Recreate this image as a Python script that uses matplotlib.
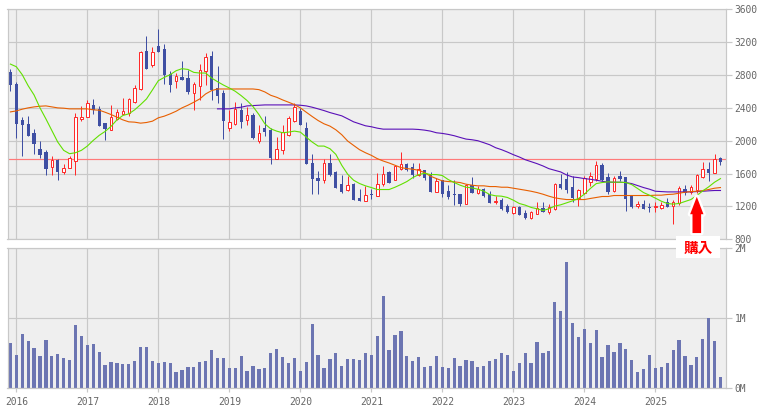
import numpy as np
import matplotlib
matplotlib.use("Agg")
import matplotlib.pyplot as plt
import matplotlib.patheffects as pe
from matplotlib.patches import Rectangle

# monthly bars, index 0 is Dec 2015
year_labels = ["2016", "2017", "2018", "2019", "2020", "2021", "2022", "2023", "2024", "2025"]
year_months = [1, 13, 25, 37, 49, 61, 73, 85, 97, 109]

price_ticks = [800, 1200, 1600, 2000, 2400, 2800, 3200, 3600]
volume_ticks = [0, 1, 2]
volume_labels = ["0M", "1M", "2M"]
ref_price = 1781

opens = [2840, 2695, 2258, 2198, 2089, 1895, 1858, 1681, 1762, 1620,
         1669, 1753, 2270, 2287, 2440, 2392, 2210, 2129, 2266, 2331,
         2343, 2477, 2634, 3095, 2925, 3155, 3119, 2816, 2723, 2780,
         2767, 2586, 2670, 2852, 3034, 2646, 2586, 2161, 2198, 2380,
         2258, 2319, 1996, 2149, 2125, 1782, 1891, 2069, 2246, 2367,
         2149, 1725, 1543, 1523, 1725, 1616, 1471, 1398, 1471, 1301,
         1269, 1350, 1329, 1471, 1616, 1523, 1652, 1713, 1677, 1580,
         1640, 1592, 1378, 1519, 1386, 1350, 1350, 1232, 1459, 1362,
         1410, 1350, 1253, 1276, 1204, 1119, 1192, 1119, 1058, 1111,
         1179, 1131, 1163, 1470, 1531, 1434, 1297, 1361, 1503, 1531,
         1701, 1555, 1385, 1567, 1555, 1325, 1204, 1228, 1192, 1196,
         1179, 1252, 1204, 1236, 1410, 1373, 1398, 1559, 1652, 1608,
         1785]
closes = [2675, 2202, 2186, 2052, 1955, 1822, 1652, 1762, 1616, 1664,
          1794, 2283, 2283, 2464, 2380, 2174, 2137, 2283, 2355, 2367,
          2513, 2646, 3083, 2876, 3083, 3083, 2804, 2683, 2792, 2743,
          2598, 2695, 2864, 3022, 2618, 2549, 2246, 2234, 2392, 2234,
          2319, 2028, 2097, 2101, 1786, 1895, 2101, 2271, 2416, 2186,
          1713, 1531, 1507, 1725, 1580, 1422, 1374, 1459, 1277, 1265,
          1337, 1337, 1471, 1592, 1483, 1689, 1713, 1640, 1580, 1652,
          1543, 1374, 1507, 1350, 1313, 1337, 1228, 1459, 1362, 1410,
          1325, 1240, 1265, 1167, 1131, 1192, 1095, 1058, 1131, 1179,
          1131, 1192, 1470, 1422, 1398, 1301, 1398, 1543, 1567, 1701,
          1519, 1373, 1543, 1531, 1289, 1192, 1228, 1167, 1183, 1204,
          1212, 1192, 1252, 1422, 1361, 1434, 1579, 1652, 1604, 1773,
          1737]
highs = [2872, 2719, 2283, 2295, 2137, 1992, 1883, 1810, 1774, 1713,
         1810, 2343, 2428, 2501, 2513, 2428, 2210, 2440, 2392, 2525,
         2525, 2683, 3095, 3276, 3143, 3361, 3180, 2852, 2828, 2973,
         2864, 2719, 2937, 3070, 3095, 2913, 2622, 2380, 2477, 2464,
         2416, 2335, 2186, 2307, 2149, 2040, 2186, 2307, 2465, 2404,
         2234, 1834, 1628, 1774, 1834, 1628, 1580, 1568, 1483, 1410,
         1446, 1410, 1604, 1689, 1628, 1701, 1859, 1725, 1725, 1725,
         1640, 1616, 1543, 1519, 1459, 1519, 1350, 1471, 1556, 1446,
         1422, 1386, 1325, 1297, 1228, 1204, 1204, 1155, 1143, 1252,
         1252, 1228, 1482, 1592, 1616, 1567, 1410, 1567, 1616, 1749,
         1725, 1604, 1567, 1628, 1555, 1325, 1264, 1276, 1240, 1252,
         1252, 1301, 1276, 1446, 1458, 1458, 1592, 1737, 1737, 1834,
         1798]
lows = [2610, 2032, 1814, 2052, 1834, 1786, 1580, 1580, 1519, 1592,
        1664, 1580, 2238, 2287, 2331, 2174, 2004, 2125, 2258, 2331,
        2307, 2456, 2622, 2876, 2901, 3083, 2695, 2598, 2646, 2743,
        2574, 2380, 2501, 2683, 2501, 2464, 2016, 2113, 2186, 2161,
        2186, 2016, 1972, 2052, 1713, 1774, 1834, 2056, 2222, 2186,
        1713, 1350, 1350, 1483, 1568, 1422, 1362, 1386, 1277, 1265,
        1265, 1289, 1325, 1446, 1483, 1519, 1640, 1628, 1543, 1568,
        1519, 1374, 1374, 1313, 1289, 1216, 1204, 1228, 1362, 1350,
        1313, 1240, 1228, 1155, 1123, 1107, 1091, 1046, 1050, 1107,
        1131, 1107, 1159, 1410, 1365, 1252, 1204, 1349, 1446, 1507,
        1507, 1349, 1373, 1507, 1143, 1179, 1187, 1167, 1131, 1131,
        1167, 1192, 986, 1216, 1337, 1349, 1365, 1551, 1507, 1604,
        1701]

ma_green = [2933, 2901, 2804, 2670, 2557, 2400, 2266, 2125, 1984, 1883,
            1842, 1854, 1883, 1935, 2004, 2065, 2113, 2174, 2254, 2307,
            2327, 2376, 2440, 2509, 2618, 2731, 2771, 2804, 2852, 2877,
            2868, 2832, 2824, 2824, 2763, 2719, 2678, 2642, 2602, 2549,
            2489, 2416, 2319, 2206, 2145, 2117, 2097, 2105, 2117, 2105,
            2044, 1984, 1935, 1935, 1903, 1834, 1701, 1592, 1519, 1479,
            1451, 1430, 1406, 1406, 1406, 1434, 1467, 1503, 1551, 1588,
            1604, 1588, 1588, 1576, 1527, 1491, 1459, 1434, 1426, 1410,
            1386, 1345, 1329, 1325, 1309, 1276, 1236, 1216, 1188, 1171,
            1151, 1171, 1204, 1220, 1244, 1268, 1297, 1349, 1418, 1478,
            1491, 1499, 1495, 1495, 1491, 1466, 1418, 1369, 1337, 1301,
            1264, 1236, 1228, 1236, 1260, 1284, 1333, 1389, 1438, 1495,
            1539]
ma_orange = [2351, 2363, 2384, 2400, 2412, 2420, 2424, 2412, 2400, 2396,
             2388, 2388, 2388, 2388, 2376, 2372, 2347, 2319, 2287, 2254,
             2230, 2226, 2214, 2222, 2238, 2279, 2299, 2327, 2359, 2400,
             2432, 2469, 2509, 2570, 2610, 2630, 2630, 2630, 2630, 2630,
             2630, 2630, 2622, 2594, 2553, 2529, 2497, 2469, 2440, 2400,
             2347, 2295, 2246, 2206, 2178, 2133, 2073, 1996, 1943, 1891,
             1854, 1822, 1782, 1753, 1729, 1701, 1673, 1661, 1653, 1640,
             1612, 1568, 1539, 1511, 1503, 1499, 1491, 1471, 1459, 1451,
             1451, 1442, 1442, 1434, 1434, 1422, 1410, 1398, 1385, 1369,
             1349, 1325, 1305, 1293, 1284, 1284, 1284, 1284, 1297, 1309,
             1321, 1321, 1333, 1333, 1333, 1333, 1333, 1333, 1333, 1337,
             1337, 1345, 1349, 1361, 1373, 1381, 1385, 1393, 1406, 1422,
             1430]
# purple average only starts in late 2018
ma_purple = [np.nan] * 35 + [
    2388, 2388, 2388, 2400, 2408, 2424, 2428, 2432, 2436, 2436,
    2436, 2436, 2436, 2436, 2432, 2424, 2408, 2388, 2367, 2343,
    2323, 2303, 2267, 2230, 2206, 2182, 2170, 2153, 2141, 2141,
    2141, 2141, 2141, 2141, 2137, 2129, 2117, 2097, 2089, 2077,
    2061, 2040, 2020, 2012, 2000, 1976, 1951, 1915, 1891, 1862,
    1830, 1802, 1769, 1745, 1721, 1693, 1660, 1640, 1620, 1583,
    1559, 1551, 1539, 1531, 1519, 1507, 1495, 1495, 1495, 1491,
    1478, 1454, 1430, 1410, 1385, 1381, 1377, 1377, 1377, 1377,
    1377, 1381, 1385, 1390, 1394, 1394]

volumes = [.648, .476, .776, .676, .576, .462, .690, .462, .490, .433,
           .405, .905, .748, .619, .633, .519, .333, .376, .362, .348,
           .348, .390, .590, .590, .390, .362, .376, .362, .233, .262,
           .305, .305, .376, .390, .548, .433, .433, .290, .290, .462,
           .248, .319, .276, .290, .505, .562, .448, .362, .433, .248,
           .376, .919, .476, .290, .419, .505, .319, .419, .419, .405,
           .505, .476, .748, 1.319, .548, .762, .819, .462, .390, .448,
           .305, .319, .462, .305, .290, .433, .319, .405, .390, .305,
           .319, .390, .419, .505, .476, .248, .362, .505, .362, .662,
           .505, .533, 1.233, 1.105, 1.805, .933, .733, .848, .648, .833,
           .448, .619, .519, .648, .562, .405, .233, .276, .476, .290,
           .305, .362, .548, .686, .462, .333, .448, .705, 1.005, .676,
           .162]

GRID = "#c8c8c8"
TEXT = "#666666"
W, H = 762, 409
FONT = "DejaVu Sans Mono"
PX = 0.72  # one pixel in points


def panel(top, bottom):
    # axes box from pixel rows of the reference
    left, right = 7.5, 725.5
    ax = fig.add_axes([left / W, 1 - bottom / H, (right - left) / W, (bottom - top) / H])
    ax.set_facecolor("#efefef")
    ax.set_xlim(-0.49, 120.85)
    ax.set_axisbelow(True)
    ax.grid(True, color=GRID, lw=PX * 1.2)
    for s in ax.spines.values():
        s.set_color(GRID)
        s.set_linewidth(PX * 1.2)
    ax.yaxis.tick_right()
    ax.set_xticks(year_months)
    ax.tick_params(axis="y", length=4.5, width=PX * 1.2, color=GRID, pad=2,
                   labelsize=6.9, labelcolor=TEXT)
    ax.tick_params(axis="x", length=3, width=PX * 1.2, color=GRID, pad=3,
                   labelsize=6.9, labelcolor=TEXT)
    return ax


fig = plt.figure(figsize=(W / 100, H / 100), dpi=100, facecolor="white")
plt.rcParams["font.family"] = FONT

ax1 = panel(9.3, 239.3)
ax2 = panel(248.3, 388.3)

# price panel
x = np.arange(len(opens))
o = np.array(opens)
c = np.array(closes)
up = c >= o
ax1.axhline(ref_price, color="#ff7a7a", lw=PX * 1.2, zorder=1.5)
ax1.vlines(x[~up], np.array(lows)[~up], np.array(highs)[~up], color="#3f4fa3", lw=PX, zorder=2)
ax1.vlines(x[up], np.array(lows)[up], np.array(highs)[up], color="#ff2a2a", lw=PX, zorder=2)
ax1.bar(x[~up], (o - c)[~up], bottom=c[~up], width=0.55, color="#3f4fa3", lw=0, zorder=2.1)
ax1.bar(x[up], (c - o)[up], bottom=o[up], width=0.42, facecolor="#ffffff",
        edgecolor="#ff2a2a", lw=PX, zorder=2.1)

ax1.plot(x, ma_purple, color="#5a10b8", lw=0.8, zorder=3)
ax1.plot(x, ma_orange, color="#e85f00", lw=0.8, zorder=3.1)
ax1.plot(x, ma_green, color="#62e000", lw=0.8, zorder=3.2)

ax1.set_ylim(800, 3600)
ax1.set_yticks(price_ticks)
ax1.set_yticklabels([str(p) for p in price_ticks], family=FONT)
ax1.tick_params(axis="x", length=0, labelbottom=False)

# volume panel
ax2.bar(x, volumes, width=0.55, color="#6c75b2", lw=0, zorder=2)
ax2.set_ylim(0, 2)
ax2.set_yticks(volume_ticks)
ax2.set_yticklabels(volume_labels, family=FONT)
ax2.set_xticklabels(year_labels, family=FONT)

# buy marker
arrow = ax1.annotate("", xy=(116, 1317), xytext=(116, 876), annotation_clip=False,
                     arrowprops=dict(arrowstyle="simple,head_length=1.25,head_width=0.96,tail_width=0.62",
                                     color="#ff0000", lw=0, shrinkA=0, shrinkB=0, mutation_scale=10,
                                     path_effects=[pe.withStroke(linewidth=3.5, foreground="white")]),
                     zorder=6)
fig.add_artist(Rectangle((676 / W, 1 - 258 / H), 44 / W, 22 / H, transform=fig.transFigure,
                         facecolor="white", edgecolor="none", zorder=5))
fig.text(698 / W, 1 - 247.5 / H, "購入", color="#ff0000", fontsize=10.5, fontweight="bold",
         family=["Noto Sans CJK JP", "DejaVu Sans"], ha="center", va="center", zorder=6)

fig.savefig("out.png", dpi=100, facecolor="white")
